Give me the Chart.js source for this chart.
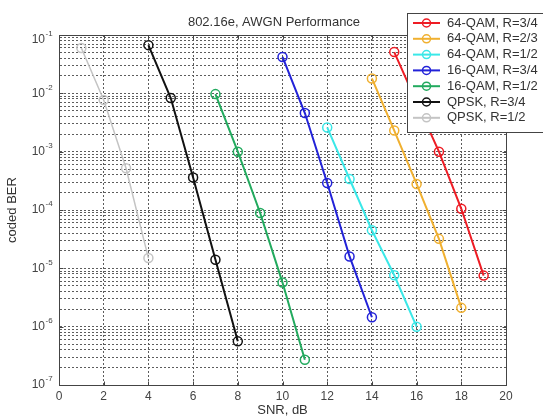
<!DOCTYPE html>
<html>
<head>
<meta charset="utf-8">
<script src="https://cdn.jsdelivr.net/npm/chart.js@4/dist/chart.umd.min.js"></script>
<style>
  body { margin: 0; background: #fff; }
  #ber { display: block; }
</style>
</head>
<body>
<canvas id="ber" width="543" height="417"></canvas>
<script>
// curve data (SNR in dB, coded BER)
const labels = ['64-QAM, R=3/4', '64-QAM, R=2/3', '64-QAM, R=1/2', '16-QAM, R=3/4', '16-QAM, R=1/2', 'QPSK, R=3/4', 'QPSK, R=1/2'];
const colors = ['#ee1c24', '#f0b030', '#3ae8e8', '#2222d8', '#22aa5e', '#111111', '#c4c4c4'];

const snr64q34 = [15, 16, 17, 18, 19];
const ber64q34 = [5.1e-2, 7e-3, 1.0e-3, 1.05e-4, 7.5e-6];
const snr64q23 = [14, 15, 16, 17, 18];
const ber64q23 = [1.8e-2, 2.3e-3, 2.8e-4, 3.2e-5, 2.1e-6];
const snr64q12 = [12, 13, 14, 15, 16];
const ber64q12 = [2.6e-3, 3.4e-4, 4.5e-5, 7.6e-6, 1.0e-6];
const snr16q34 = [10, 11, 12, 13, 14];
const ber16q34 = [4.2e-2, 4.6e-3, 2.9e-4, 1.6e-5, 1.45e-6];
const snr16q12 = [7, 8, 9, 10, 11];
const ber16q12 = [9.7e-3, 1.0e-3, 8.9e-5, 5.7e-6, 2.7e-7];
const snrQpsk34 = [4, 5, 6, 7, 8];
const berQpsk34 = [6.7e-2, 8.3e-3, 3.6e-4, 1.4e-5, 5.6e-7];
const snrQpsk12 = [1, 2, 3, 4];
const berQpsk12 = [6.0e-2, 7.7e-3, 5.2e-4, 1.5e-5];

const snrSets = [snr64q34, snr64q23, snr64q12, snr16q34, snr16q12, snrQpsk34, snrQpsk12];
const berSets = [ber64q34, ber64q23, ber64q12, ber16q34, ber16q12, berQpsk34, berQpsk12];

const xTicks = [0, 2, 4, 6, 8, 10, 12, 14, 16, 18, 20];
const yExponents = [-7, -6, -5, -4, -3, -2, -1];

const FONT = "'Liberation Sans', Arial, sans-serif";
const gridColor = '#5c5c5c';

const datasets = labels.map((name, i) => ({
    label: name,
    data: snrSets[i].map((s, k) => ({x: s, y: berSets[i][k]})),
    borderColor: colors[i],
    backgroundColor: colors[i],
    borderWidth: i === 6 ? 1.5 : 2,
    pointRadius: 4.5,
    pointBorderWidth: 1.5,
    pointBackgroundColor: 'rgba(0,0,0,0)',
    pointBorderColor: colors[i],
    tension: 0
}));

const decorations = {
    id: 'decorations',
    afterDraw(chart) {
        const {ctx, chartArea: a, scales: {x, y}} = chart;
        const L = Math.round(a.left) + 0.5, R = Math.round(a.right) + 0.5;
        const T = Math.round(a.top) + 0.5, B = Math.round(a.bottom) + 0.5;
        ctx.save();

        // closed box like matlab
        ctx.strokeStyle = '#444';
        ctx.lineWidth = 1;
        ctx.strokeRect(L, T, R - L, B - T);

        // inward tick marks
        ctx.beginPath();
        xTicks.forEach(v => {
            const px = Math.round(x.getPixelForValue(v)) + 0.5;
            ctx.moveTo(px, B); ctx.lineTo(px, B - 4);
            ctx.moveTo(px, T); ctx.lineTo(px, T + 4);
        });
        yExponents.forEach(e => {
            const py = Math.round(y.getPixelForValue(Math.pow(10, e))) + 0.5;
            ctx.moveTo(L, py); ctx.lineTo(L + 4, py);
            ctx.moveTo(R, py); ctx.lineTo(R - 4, py);
        });
        ctx.stroke();

        // title
        ctx.fillStyle = '#333';
        ctx.font = '13px ' + FONT;
        ctx.textAlign = 'center';
        ctx.textBaseline = 'middle';
        ctx.fillText('802.16e, AWGN Performance', 274, 22);

        // y labels 10^n
        yExponents.forEach(e => {
            let yy = y.getPixelForValue(Math.pow(10, e));
            if (e === yExponents[yExponents.length - 1]) yy += 5;
            ctx.font = '12px ' + FONT;
            ctx.textAlign = 'right';
            ctx.fillStyle = '#444';
            ctx.fillText('10', 45, yy);
            ctx.font = '8px ' + FONT;
            ctx.textAlign = 'left';
            ctx.fillText(String(e), 45.5, yy - 6);
        });

        // legend box
        const lx = 407, ly = 13;
        ctx.fillStyle = '#fff';
        ctx.fillRect(lx, ly, 140, 119);
        ctx.strokeStyle = '#444';
        ctx.lineWidth = 1;
        ctx.strokeRect(lx + 0.5, ly + 0.5, 140, 119);
        chart.data.datasets.forEach((ds, i) => {
            const ry = 23 + i * 15.8;
            ctx.strokeStyle = ds.borderColor;
            ctx.lineWidth = 2;
            ctx.beginPath();
            ctx.moveTo(413, ry);
            ctx.lineTo(440, ry);
            ctx.stroke();
            ctx.lineWidth = 1.5;
            ctx.beginPath();
            ctx.arc(426.5, ry, 4, 0, Math.PI * 2);
            ctx.stroke();
            ctx.fillStyle = '#333';
            ctx.font = '13px ' + FONT;
            ctx.textAlign = 'left';
            ctx.textBaseline = 'middle';
            ctx.fillText(ds.label, 447, ry);
        });
        ctx.restore();
    }
};

new Chart(document.getElementById('ber'), {
    type: 'line',
    data: { datasets: datasets },
    options: {
        responsive: false,
        animation: false,
        layout: { padding: { top: 35, right: 37, left: 0, bottom: 0 } },
        plugins: {
            legend: { display: false },
            tooltip: { enabled: false }
        },
        scales: {
            x: {
                type: 'linear',
                min: 0,
                max: 20,
                afterBuildTicks: s => { s.ticks = xTicks.map(v => ({value: v})); },
                afterFit: s => { s.height = 32; },
                ticks: { color: '#444', font: { family: FONT, size: 12 }, padding: 4, autoSkip: false, maxRotation: 0 },
                grid: { color: gridColor, lineWidth: 1, drawTicks: false },
                border: { display: true, color: '#444', dash: [2, 2] },
                title: { display: true, text: 'SNR, dB', color: '#333', font: { family: FONT, size: 13, lineHeight: 1 }, padding: { top: 0, bottom: 0 } }
            },
            y: {
                type: 'logarithmic',
                min: 1e-7,
                max: 1e-1,
                afterBuildTicks: s => {
                    const t = [];
                    yExponents.forEach(e => {
                        if (e === -1) { t.push({value: 0.1}); return; }
                        for (let m = 1; m <= 9; m++) t.push({value: m * Math.pow(10, e)});
                    });
                    s.ticks = t;
                },
                afterFit: s => { s.width = 59; },
                ticks: { display: false, autoSkip: false },
                grid: { color: gridColor, lineWidth: 1, drawTicks: false },
                border: { display: true, color: '#444', dash: [2, 2] },
                title: { display: true, text: 'coded BER', color: '#333', font: { family: FONT, size: 13, lineHeight: 1 }, padding: { top: 6, bottom: 0 } }
            }
        }
    },
    plugins: [decorations]
});
</script>
</body>
</html>
